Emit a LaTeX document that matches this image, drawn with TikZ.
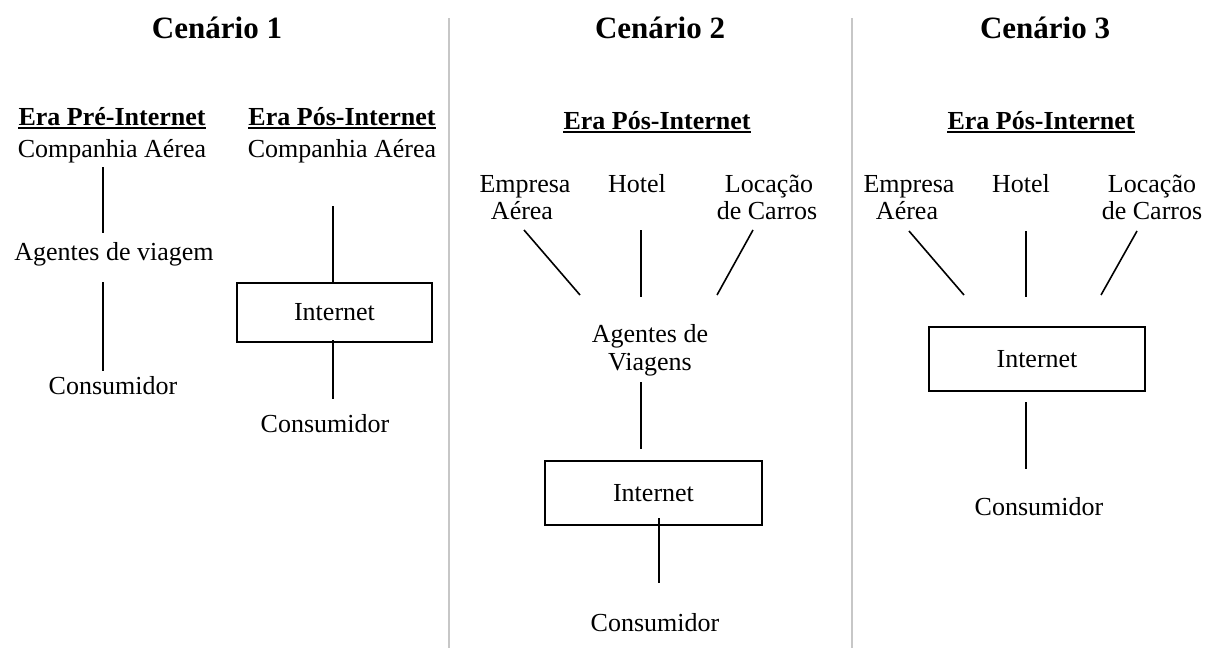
\documentclass[tikz,border=0pt]{standalone}
\usepackage{fontspec}
\setmainfont{Liberation Serif}
\begin{document}
\begin{tikzpicture}[x=1pt,y=-1pt,
  txt/.style={anchor=base, inner sep=0pt, font=\fontsize{26}{30}\selectfont},
  hdr/.style={anchor=base, inner sep=0pt, font=\fontsize{26}{30}\selectfont\bfseries},
  ttl/.style={anchor=base, inner sep=0pt, font=\fontsize{31}{34}\selectfont\bfseries},
  ln/.style={line width=1.6pt},
  uline/.style={line width=1.4pt},
  netbox/.style={draw, line width=1.6pt, inner sep=0pt, font=\fontsize{26}{30}\selectfont},
  sepline/.style={line width=2pt, draw=black!22}]
\useasboundingbox (0,0) rectangle (1212,648);

% separators
\coordinate (s1t) at (449,18); \coordinate (s1b) at (449,648);
\coordinate (s2t) at (852,18); \coordinate (s2b) at (852,648);
\draw[sepline] (s1t) -- (s1b);
\draw[sepline] (s2t) -- (s2b);

% titles
\node[ttl] (t1) at (217,38) {Cenário 1};
\node[ttl] (t2) at (660,38) {Cenário 2};
\node[ttl] (t3) at (1045,38) {Cenário 3};

% ---------- Cenario 1, pre-internet
\node[hdr] (h1a) at (112,125) {Era Pré-Internet};
\draw[uline] ([yshift=-3pt]h1a.base west) -- ([yshift=-3pt]h1a.base east);
\node[txt] (ca1) at (112,157) {Companhia Aérea};
\node[txt] (ag1) at (114,260) {Agentes de viagem};
\node[txt] (co1) at (113,394) {Consumidor};
\coordinate (l1a) at (103,167); \coordinate (l1b) at (103,233);
\coordinate (l1c) at (103,282); \coordinate (l1d) at (103,371);
\draw[ln] (l1a) -- (l1b);
\draw[ln] (l1c) -- (l1d);

% ---------- Cenario 1, pos-internet
\node[hdr] (h1b) at (342,125) {Era Pós-Internet};
\draw[uline] ([yshift=-3pt]h1b.base west) -- ([yshift=-3pt]h1b.base east);
\node[txt] (ca2) at (342,157) {Companhia Aérea};
\node[netbox, minimum width=195pt, minimum height=59pt] (in1) at (334.5,312.5) {Internet};
\node[txt] (co2) at (325,432) {Consumidor};
\coordinate (l2a) at (333,206);
\coordinate (l2c) at (333,340); \coordinate (l2d) at (333,399);
\draw[ln] (l2a) -- (in1.north -| l2a);
\draw[ln] (l2c) -- (l2d);

% ---------- Cenario 2
\node[hdr] (h2) at (657,129) {Era Pós-Internet};
\draw[uline] ([yshift=-3pt]h2.base west) -- ([yshift=-3pt]h2.base east);
\node[txt] (em2a) at (525,192) {Empresa};
\node[txt] (em2b) at (522,219) {Aérea};
\node[txt] (ho2) at (637,192) {Hotel};
\node[txt] (lo2a) at (769,192) {Locação};
\node[txt] (lo2b) at (767,219) {de Carros};
\node[txt] (ag2a) at (650,342) {Agentes de};
\node[txt] (ag2b) at (650,370) {Viagens};
\node[netbox, minimum width=217pt, minimum height=64pt] (in2) at (653.5,493) {Internet};
\node[txt] (co3) at (655,631) {Consumidor};
\coordinate (d2a) at (524,230); \coordinate (d2b) at (580,295);
\coordinate (v2a) at (641,230); \coordinate (v2b) at (641,297);
\coordinate (e2a) at (753,230); \coordinate (e2b) at (717,295);
\coordinate (v2c) at (641,382); \coordinate (v2d) at (641,449);
\coordinate (v2e) at (659,518); \coordinate (v2f) at (659,583);
\draw[ln] (d2a) -- (d2b);
\draw[ln] (v2a) -- (v2b);
\draw[ln] (e2a) -- (e2b);
\draw[ln] (v2c) -- (v2d);
\draw[ln] (v2e) -- (v2f);

% ---------- Cenario 3
\node[hdr] (h3) at (1041,129) {Era Pós-Internet};
\draw[uline] ([yshift=-3pt]h3.base west) -- ([yshift=-3pt]h3.base east);
\node[txt] (em3a) at (909,192) {Empresa};
\node[txt] (em3b) at (907,219) {Aérea};
\node[txt] (ho3) at (1021,192) {Hotel};
\node[txt] (lo3a) at (1152,192) {Locação};
\node[txt] (lo3b) at (1152,219) {de Carros};
\node[netbox, minimum width=216pt, minimum height=64pt] (in3) at (1037,359) {Internet};
\node[txt] (co4) at (1039,515) {Consumidor};
\coordinate (d3a) at (909,231); \coordinate (d3b) at (964,295);
\coordinate (v3a) at (1026,231); \coordinate (v3b) at (1026,297);
\coordinate (e3a) at (1137,231); \coordinate (e3b) at (1101,295);
\coordinate (v3c) at (1026,402); \coordinate (v3d) at (1026,469);
\draw[ln] (d3a) -- (d3b);
\draw[ln] (v3a) -- (v3b);
\draw[ln] (e3a) -- (e3b);
\draw[ln] (v3c) -- (v3d);
\end{tikzpicture}
\end{document}
